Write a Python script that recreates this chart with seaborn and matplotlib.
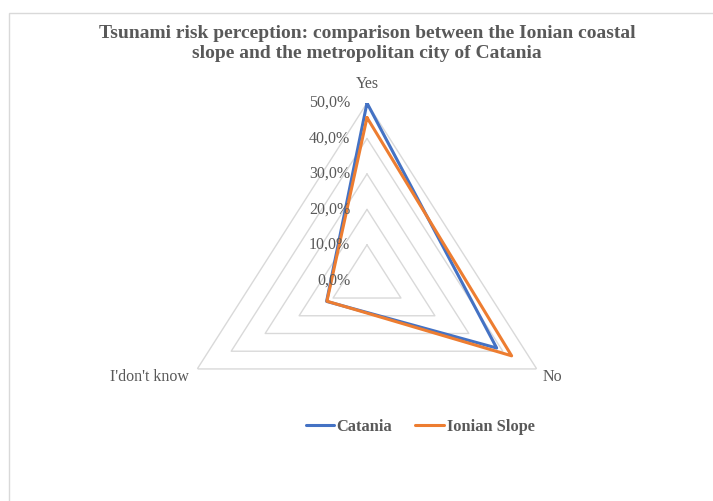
import numpy as np
import matplotlib
matplotlib.use("Agg")
import matplotlib.pyplot as plt
from matplotlib.patches import Rectangle
from matplotlib.lines import Line2D
import seaborn as sns

categories = ["Yes", "No", "I'don't know"]
catania = [50.0, 38.2, 11.9]
ionian_slope = [45.9, 42.6, 11.8]
ring_levels = [0, 10, 20, 30, 40, 50]
ring_labels = ["0,0%", "10,0%", "20,0%", "30,0%", "40,0%", "50,0%"]

sns.set_theme(style="white")
plt.rcParams["font.family"] = ["Liberation Serif", "DejaVu Serif"]

text_gray = "#595959"
grid_gray = "#d9d9d9"
blue = "#4472c4"
orange = "#ed7d31"

W, H = 713, 501
fig = plt.figure(figsize=(W / 100, H / 100), dpi=100)
fig.patch.set_facecolor("white")

# chart-area border (only the top and left edges fall inside the image)
fig.patches.append(Rectangle((9 / W, -0.1), 1.2, (501 - 12.5) / H + 0.1,
                             transform=fig.transFigure, fill=False,
                             edgecolor="#d9d9d9", linewidth=1.0))

# polar axes, stretched horizontally like the original layout
cx, cy = 367, 280.3
rh, rv = 196, 177.3
ax = fig.add_axes([(cx - rh) / W, (H - cy - rv) / H, 2 * rh / W, 2 * rv / H],
                  projection="polar")
ax.set_aspect("auto")
ax.set_theta_zero_location("N")
ax.set_theta_direction(-1)
ax.set_ylim(0, 50)
ax.grid(False)
ax.spines["polar"].set_visible(False)
ax.set_xticks([])
ax.set_yticks([])
ax.patch.set_alpha(0)

n = len(categories)
angles = np.linspace(0, 2 * np.pi, n, endpoint=False)
closed = np.concatenate([angles, angles[:1]])

# triangular gridlines
for lvl in ring_levels[1:]:
    ax.plot(closed, [lvl] * (n + 1), color=grid_gray, linewidth=1.0, zorder=1)

# value labels along the "Yes" axis
for lvl, lab in zip(ring_levels, ring_labels):
    ax.annotate(lab, xy=(0, lvl), xytext=(-12, 0), textcoords="offset points",
                ha="right", va="center", fontsize=11.5, color=text_gray,
                annotation_clip=False, zorder=5)

# category labels
offsets = {"Yes": (0, 14, "center", "center"),
           "No": (4, -6, "left", "center"),
           "I'don't know": (-6, -6, "right", "center")}
for ang, cat in zip(angles, categories):
    dx, dy, ha, va = offsets[cat]
    ax.annotate(cat, xy=(ang, 50), xytext=(dx, dy), textcoords="offset points",
                ha=ha, va=va, fontsize=11.5, color=text_gray,
                annotation_clip=False)

for vals, col in [(catania, blue), (ionian_slope, orange)]:
    sns.lineplot(x=closed, y=vals + vals[:1], ax=ax, color=col, linewidth=2.2,
                 sort=False, estimator=None, zorder=3)

ax.set_xlabel("")
ax.set_ylabel("")

fig.text(cx / W, 1 - 43.5 / H,
         "Tsunami risk perception: comparison between the Ionian coastal\n"
         "slope and the metropolitan city of Catania",
         ha="center", va="center", fontsize=14, fontweight="bold",
         color=text_gray, linespacing=1.3)

handles = [Line2D([], [], color=blue, linewidth=2.2),
           Line2D([], [], color=orange, linewidth=2.2)]
leg = fig.legend(handles, ["Catania", "Ionian Slope"], loc="center",
                 bbox_to_anchor=(420 / W, 1 - 427 / H), ncol=2, frameon=False,
                 handlelength=1.75, handletextpad=0.15, columnspacing=1.4,
                 prop={"size": 11.8, "weight": "bold"})
for t in leg.get_texts():
    t.set_color(text_gray)

fig.savefig("out.png", dpi=100, facecolor="white")
